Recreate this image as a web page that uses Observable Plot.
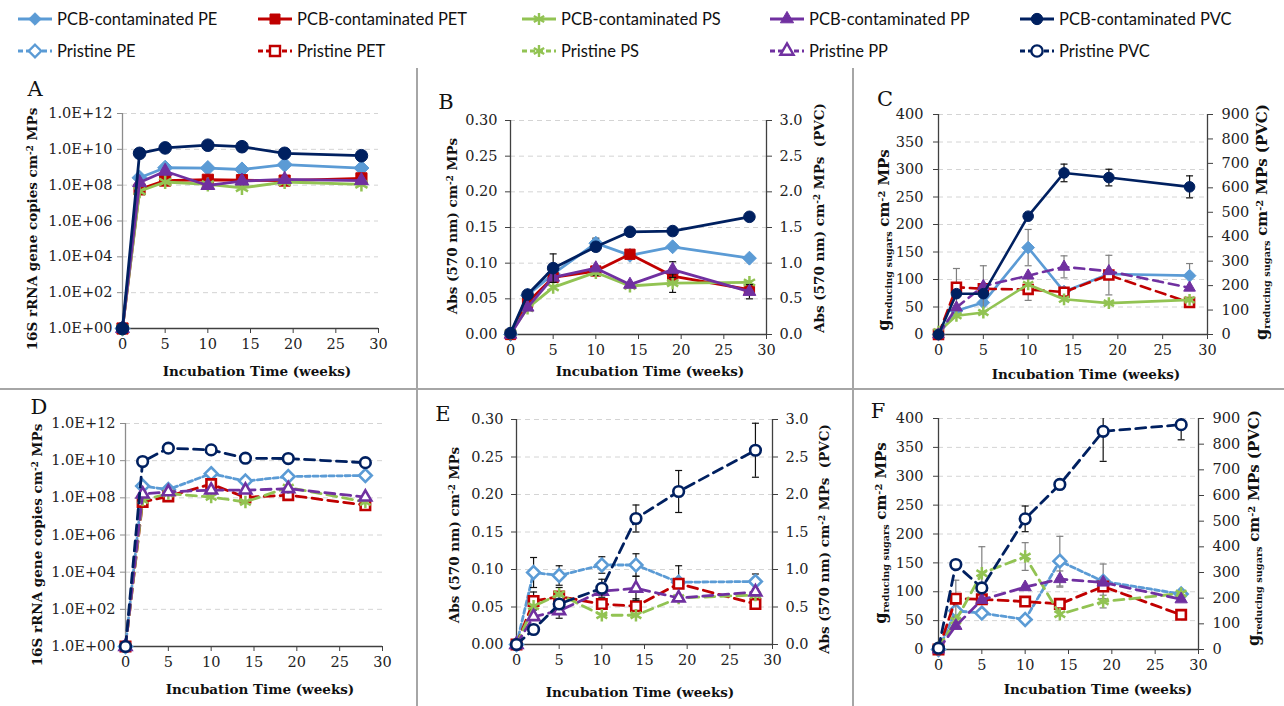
<!DOCTYPE html>
<html><head><meta charset="utf-8">
<script src="https://cdn.jsdelivr.net/npm/d3@7"></script>
<script src="https://cdn.jsdelivr.net/npm/@observablehq/plot@0.6"></script>
<style>
body{margin:0;background:#fff;}
#fig{position:relative;width:1284px;height:706px;overflow:hidden;background:#fff;font-family:"DejaVu Serif",serif;color:#111;}
.lbl{position:absolute;font-weight:bold;font-size:13.5px;white-space:nowrap;line-height:1;}
.ylbl{transform:translate(-50%,-50%) rotate(-90deg);}
.xlbl{transform:translate(-50%,-50%);}
.lbl sup{font-size:0.65em;vertical-align:0.5em;}
.lbl sub{font-size:0.72em;vertical-align:-0.25em;}
.letter{position:absolute;font-size:21px;transform:translate(-50%,-50%);line-height:1;}
.sep{position:absolute;background:#a6a6a6;}
.leg{position:absolute;display:flex;align-items:center;font-family:Lato,sans-serif;font-size:16.5px;color:#111;white-space:nowrap;}
.plot{position:absolute;}
</style>
</head><body><div id="fig"></div>
<script>
// ---------- data ----------
const weeks = [0, 2, 5, 10, 14, 19, 28];
const polymers = ["PE", "PET", "PS", "PP", "PVC"];
const colors = ["#5B9BD5", "#C00000", "#92C353", "#7030A0", "#002060"];
const symbols = ["diamond2", "square", "asterisk", "triangle", "circle"];
const legendPcb = ["PCB-contaminated PE", "PCB-contaminated PET", "PCB-contaminated PS", "PCB-contaminated PP", "PCB-contaminated PVC"];
const legendPristine = ["Pristine PE", "Pristine PET", "Pristine PS", "Pristine PP", "Pristine PVC"];
const xTicks = [0, 5, 10, 15, 20, 25, 30];
const logTicks = [1, 1e2, 1e4, 1e6, 1e8, 1e10, 1e12];
const absTicks = [0, 0.05, 0.10, 0.15, 0.20, 0.25, 0.30];
const absPvcTicks = [0, 0.5, 1.0, 1.5, 2.0, 2.5, 3.0];
const sugarTicks = [0, 50, 100, 150, 200, 250, 300, 350, 400];
const sugarPvcTicks = [0, 100, 200, 300, 400, 500, 600, 700, 800, 900];

// A: PCB-contaminated, 16S rRNA gene copies
const A_PE  = [1, 2.6e8, 9.4e8, 9e8, 7.5e8, 1.4e9, 9e8];
const A_PET = [1, 5.8e7, 1.8e8, 2e8, 1.9e8, 1.8e8, 2.4e8];
const A_PS  = [1, 4.6e7, 1.5e8, 1.1e8, 7e7, 1.5e8, 1.1e8];
const A_PP  = [1, 1.4e8, 6e8, 9.6e7, 1.7e8, 2.1e8, 1.8e8];
const A_PVC = [1, 6e9, 1.2e10, 1.7e10, 1.4e10, 6e9, 4.4e9];

// B: PCB-contaminated, Abs 570 nm (PVC on right axis)
const B_PE  = [0, 0.055, 0.085, 0.128, 0.111, 0.123, 0.107];
const B_PET = [0, 0.045, 0.080, 0.089, 0.1125, 0.082, 0.063];
const B_PS  = [0.002, 0.037, 0.066, 0.087, 0.068, 0.072, 0.073];
const B_PP  = [0, 0.038, 0.080, 0.093, 0.070, 0.091, 0.060];
const B_PVC = [0.02, 0.56, 0.93, 1.23, 1.44, 1.45, 1.65];
const B_errPE  = [0, 0, 0.004, 0.007, 0, 0, 0];
const B_errPS  = [0, 0, 0, 0.004, 0, 0.013, 0];
const B_errPP  = [0, 0, 0, 0, 0, 0.011, 0.01];
const B_errPVC = [0, 0, 0.2, 0.06, 0, 0, 0];

// C: reducing sugars (PVC on right axis)
const C_PE  = [0, 43, 58, 158, 78, 110, 107];
const C_PET = [0, 86, 83, 82, 77, 108, 58];
const C_PS  = [5, 34, 40, 91, 64, 57, 63];
const C_PP  = [0, 49, 88, 107, 123, 115, 85];
const C_PVC = [0, 167, 167, 484, 661, 642, 604];
const C_errPE  = [0, 0, 0, 33, 0, 0, 22];
const C_errPET = [0, 34, 42, 20, 0, 36, 0];
const C_errPP  = [0, 0, 0, 0, 20, 0, 0];
const C_errPVC = [0, 0, 0, 0, 36, 34, 45];

// D: pristine, 16S rRNA gene copies
const D_PE  = [1, 4.3e8, 2.8e8, 2e9, 8e8, 1.4e9, 1.6e9];
const D_PET = [1, 6e7, 1.2e8, 5.5e8, 1.05e8, 1.4e8, 4e7];
const D_PS  = [1, 7.5e7, 1.7e8, 1.1e8, 6e7, 3.6e8, 6e7];
const D_PP  = [1, 1.6e8, 2.1e8, 2.6e8, 2.6e8, 3.1e8, 1.1e8];
const D_PVC = [1, 9e9, 4.7e10, 3.8e10, 1.35e10, 1.3e10, 7.8e9];

// E: pristine, Abs 570 nm (PVC on right axis)
const E_PE  = [0, 0.096, 0.092, 0.106, 0.106, 0.083, 0.084];
const E_PET = [0, 0.058, 0.064, 0.054, 0.051, 0.081, 0.054];
const E_PS  = [0, 0.051, 0.067, 0.039, 0.039, 0.062, 0.066];
const E_PP  = [0, 0.037, 0.045, 0.071, 0.075, 0.062, 0.070];
const E_PVC = [0, 0.20, 0.54, 0.75, 1.68, 2.04, 2.59];
const E_errPE  = [0, 0.02, 0.013, 0.011, 0.015, 0.022, 0.01];
const E_errPET = [0, 0.012, 0.012, 0, 0.01, 0, 0];
const E_errPP  = [0, 0, 0.01, 0, 0.016, 0, 0];
const E_errPVC = [0, 0, 0, 0.12, 0.18, 0.28, 0.36];

// F: pristine, reducing sugars (PVC on right axis)
const F_PE  = [0, 67, 63, 52, 153, 118, 96];
const F_PET = [0, 88, 87, 83, 79, 109, 60];
const F_PS  = [3, 50, 132, 161, 61, 83, 97];
const F_PP  = [0, 41, 86, 108, 122, 116, 87];
const F_PVC = [5, 331, 240, 509, 643, 850, 876];
const F_errPE  = [0, 0, 0, 0, 43, 30, 0];
const F_errPET = [0, 32, 0, 0, 0, 0, 0];
const F_errPS  = [0, 0, 46, 24, 0, 11, 0];
const F_errPP  = [0, 0, 0, 0, 14, 0, 0];
const F_errPVC = [0, 0, 0, 50, 0, 117, 59];

// ---------- helpers ----------
const fig = d3.select("#fig");
const symMul = {circle: 1, square: 1.0, diamond2: 1.08, triangle: 0.82, asterisk: 1.05};
const d3sym = {circle: d3.symbolCircle, square: d3.symbolSquare, diamond2: d3.symbolDiamond2, triangle: d3.symbolTriangle, asterisk: d3.symbolAsterisk};
const capSymbol = {draw(ctx) { ctx.moveTo(-3.5, 0); ctx.lineTo(3.5, 0); }};
const logFmt = d => "1.0E+" + String(Math.round(Math.log10(d))).padStart(2, "0");

function makePanel(cfg) {
  const ML = 80, MR = 80, MT = 20, MB = 34;
  const ratio = cfg.ratio || 1;
  const marks = [];
  marks.push(Plot.gridY(cfg.yTicks.slice(1), {stroke: "#d4d4d4", strokeOpacity: 1, strokeDasharray: "5,4"}));
  marks.push(Plot.ruleX([0], {stroke: cfg.leftAxisColor || "#404040", strokeWidth: 1.3}));
  if (cfg.rTicks) marks.push(Plot.ruleX([30], {stroke: "#404040", strokeWidth: 1.3}));
  marks.push(Plot.ruleY([cfg.yDomain[0]], {stroke: "#404040", strokeWidth: 1.3}));
  marks.push(Plot.axisX(xTicks, {tickSize: 5, tickPadding: 5, label: null, stroke: "#404040"}));
  marks.push(Plot.axisY(cfg.yTicks, {anchor: "left", tickSize: 5, tickPadding: cfg.padL, label: null, tickFormat: cfg.yFmt, stroke: cfg.leftAxisColor || "#404040"}));
  if (cfg.rTicks) {
    marks.push(Plot.axisY(cfg.rTicks.map(d => d / ratio), {anchor: "right", tickSize: 5, tickPadding: cfg.padR, label: null,
      tickFormat: (d, i) => cfg.rFmt(cfg.rTicks[i]), stroke: "#404040"}));
  }
  for (const s of cfg.series) {
    const k = s.i === 4 ? ratio : 1;
    const rows = weeks.map((w, j) => ({w, v: s.values[j] / k, e: s.err ? s.err[j] / k : 0}));
    const color = colors[s.i];
    marks.push(Plot.line(rows, {x: "w", y: "v", stroke: color, strokeWidth: cfg.lw,
      strokeDasharray: s.dashed ? (s.i === 0 ? "5,3" : "10,6") : null}));
    const er = rows.filter(d => d.e > 0);
    if (er.length) {
      const ec = (s.i === 4 || cfg.blackErr) ? "#111" : "#7f7f7f";
      marks.push(Plot.ruleX(er, {x: "w", y1: d => d.v - d.e, y2: d => d.v + d.e, stroke: ec, strokeWidth: 1.2, clip: true}));
      marks.push(Plot.dot(er, {x: "w", y: d => d.v + d.e, symbol: capSymbol, stroke: ec, fill: "none", strokeWidth: 1.2, clip: true}));
      marks.push(Plot.dot(er.filter(d => d.v - d.e > cfg.yDomain[0]), {x: "w", y: d => d.v - d.e, symbol: capSymbol, stroke: ec, fill: "none", strokeWidth: 1.2}));
    }
    const sym = symbols[s.i];
    const rr = cfg.r * symMul[sym];
    if (sym === "asterisk") {
      marks.push(Plot.dot(rows, {x: "w", y: "v", symbol: sym, r: rr, stroke: color, strokeWidth: 2.5}));
    } else if (s.open) {
      marks.push(Plot.dot(rows, {x: "w", y: "v", symbol: sym, r: rr * 0.95, stroke: color, fill: "white", strokeWidth: 2.6}));
    } else {
      marks.push(Plot.dot(rows, {x: "w", y: "v", symbol: sym, r: rr, stroke: color, fill: color, strokeWidth: 1}));
    }
  }
  const chart = Plot.plot({
    width: cfg.fw + ML + MR, height: cfg.fh + MT + MB,
    marginLeft: ML, marginRight: MR, marginTop: MT, marginBottom: MB,
    x: {domain: [0, 30], axis: null},
    y: {type: cfg.yType || "linear", domain: cfg.yDomain, axis: null},
    style: {fontFamily: "DejaVu Serif, serif", fontSize: "14.5px", color: "#222", background: "transparent", overflow: "visible"},
    marks
  });
  chart.classList.add("plot");
  chart.style.left = (cfg.left - ML) + "px";
  chart.style.top = (cfg.top - MT) + "px";
  fig.node().appendChild(chart);
}

function label(html, x, y, cls, extra) {
  fig.append("div").attr("class", "lbl " + cls).attr("style", `left:${x}px;top:${y}px;${extra || ""}`).html(html);
}

// ---------- separators ----------
fig.append("div").attr("class", "sep").attr("style", "left:0;top:388px;width:1284px;height:2px;");
fig.append("div").attr("class", "sep").attr("style", "left:416px;top:68px;width:2px;height:640px;");
fig.append("div").attr("class", "sep").attr("style", "left:852px;top:68px;width:2px;height:640px;");

// ---------- legend ----------
const legX = [17, 257, 521, 769, 1019];
[legendPcb, legendPristine].forEach((names, row) => {
  const yc = row === 0 ? 19 : 51;
  names.forEach((name, i) => {
    const item = fig.append("div").attr("class", "leg").attr("style", `left:${legX[i]}px;top:${yc - 11}px;height:22px;`);
    const svg = item.append("svg").attr("width", 36).attr("height", 22).style("margin-right", "4px");
    svg.append("line").attr("x1", 1).attr("x2", 35).attr("y1", 11).attr("y2", 11)
      .attr("stroke", colors[i]).attr("stroke-width", 3).attr("stroke-dasharray", row === 1 ? "5,3" : null);
    const sym = symbols[i];
    const open = row === 1 && sym !== "asterisk";
    svg.append("path").attr("transform", "translate(18,11)")
      .attr("d", d3.symbol().type(d3sym[sym]).size(sym === "triangle" ? 75 : 100)())
      .attr("fill", sym === "asterisk" ? "none" : (open ? "white" : colors[i]))
      .attr("stroke", colors[i]).attr("stroke-width", sym === "asterisk" || open ? 2.4 : 1);
    item.append("span").text(name);
  });
});

// ---------- panels ----------
const pcb = (i, values, err) => ({i, values, err, dashed: false, open: false});
const pri = (i, values, err) => ({i, values, err, dashed: true, open: true});
const mixed = (i, values, err) => ({i, values, err, dashed: true, open: false});
const f2 = d3.format(".2f"), f1 = d3.format(".1f"), f0 = d3.format("d");

makePanel({left: 122, top: 113, fw: 256, fh: 215, yType: "log", yDomain: [1, 1e12], yTicks: logTicks, yFmt: logFmt,
  padL: 5, r: 6.3, lw: 2.8, leftAxisColor: "#8c8c8c",
  series: [pcb(0, A_PE), pcb(1, A_PET), pcb(2, A_PS), pcb(3, A_PP), pcb(4, A_PVC)]});
makePanel({left: 510, top: 120, fw: 256, fh: 214, yDomain: [0, 0.30], yTicks: absTicks, yFmt: f2,
  rTicks: absPvcTicks, rFmt: f1, ratio: 10, padL: 8, padR: 8, r: 5.8, lw: 2.8, blackErr: true,
  series: [pcb(0, B_PE, B_errPE), pcb(1, B_PET), pcb(2, B_PS, B_errPS), pcb(3, B_PP, B_errPP), pcb(4, B_PVC, B_errPVC)]});
makePanel({left: 938, top: 114, fw: 269, fh: 220, yDomain: [0, 400], yTicks: sugarTicks, yFmt: f0,
  rTicks: sugarPvcTicks, rFmt: f0, ratio: 2.25, padL: 10, padR: 9, r: 5.3, lw: 2.6,
  series: [pcb(0, C_PE, C_errPE), pri(1, C_PET, C_errPET), pcb(2, C_PS), mixed(3, C_PP, C_errPP), pcb(4, C_PVC, C_errPVC)]});
makePanel({left: 125, top: 423, fw: 257, fh: 223, yType: "log", yDomain: [1, 1e12], yTicks: logTicks, yFmt: logFmt,
  padL: 5, r: 5.6, lw: 2.8, leftAxisColor: "#8c8c8c",
  series: [pri(0, D_PE), pri(1, D_PET), pri(2, D_PS), pri(3, D_PP), pri(4, D_PVC)]});
makePanel({left: 516, top: 419, fw: 256, fh: 225, yDomain: [0, 0.30], yTicks: absTicks, yFmt: f2,
  rTicks: absPvcTicks, rFmt: f1, ratio: 10, padL: 8, padR: 8, r: 5.6, lw: 2.8, blackErr: true,
  series: [pri(0, E_PE, E_errPE), pri(1, E_PET, E_errPET), pri(2, E_PS), pri(3, E_PP, E_errPP), pri(4, E_PVC, E_errPVC)]});
makePanel({left: 938, top: 418, fw: 260, fh: 231, yDomain: [0, 400], yTicks: sugarTicks, yFmt: f0,
  rTicks: sugarPvcTicks, rFmt: f0, ratio: 2.25, padL: 10, padR: 9, r: 5.6, lw: 2.8,
  series: [pri(0, F_PE, F_errPE), pri(1, F_PET, F_errPET), pri(2, F_PS, F_errPS), mixed(3, F_PP, F_errPP), pri(4, F_PVC, F_errPVC)]});

// ---------- panel letters ----------
[["A", 35, 89], ["B", 446, 102], ["C", 885, 99], ["D", 39, 407], ["E", 443, 414], ["F", 878, 411]].forEach(([t, x, y]) =>
  fig.append("div").attr("class", "letter").attr("style", `left:${x}px;top:${y}px;`).text(t));

// ---------- axis titles ----------
const geneLbl = "16S rRNA gene copies cm<sup>-2</sup> MPs";
const absLbl = "Abs (570 nm) cm<sup>-2</sup> MPs";
const absPvcLbl = "Abs (570 nm) cm<sup>-2</sup> MPs&nbsp; (PVC)";
const sugLbl = "<span style='font-size:16px'>g</span><sub>reducing sugars</sub> <span style='font-size:15px'>cm<sup>-2</sup> MPs</span>";
const sugPvcLbl = "<span style='font-size:16px'>g</span><sub>reducing sugars</sub> <span style='font-size:15px'>cm<sup>-2</sup> MPs (PVC)</span>";
const xLbl = "Incubation Time (weeks)";
label(geneLbl, 33, 229, "ylbl"); label(xLbl, 257, 372, "xlbl");
label(absLbl, 453, 226, "ylbl"); label(absPvcLbl, 820, 218, "ylbl"); label(xLbl, 650, 372, "xlbl");
label(sugLbl, 885, 240, "ylbl"); label(sugPvcLbl, 1263, 222, "ylbl"); label(xLbl, 1086, 375, "xlbl");
label(geneLbl, 38, 545, "ylbl"); label(xLbl, 260, 690, "xlbl");
label(absLbl, 455, 535, "ylbl"); label(absPvcLbl, 825, 539, "ylbl"); label(xLbl, 640, 693, "xlbl");
label(sugLbl, 882, 533, "ylbl"); label(sugPvcLbl, 1255, 528, "ylbl"); label(xLbl, 1098, 690, "xlbl");
</script>
</body></html>
